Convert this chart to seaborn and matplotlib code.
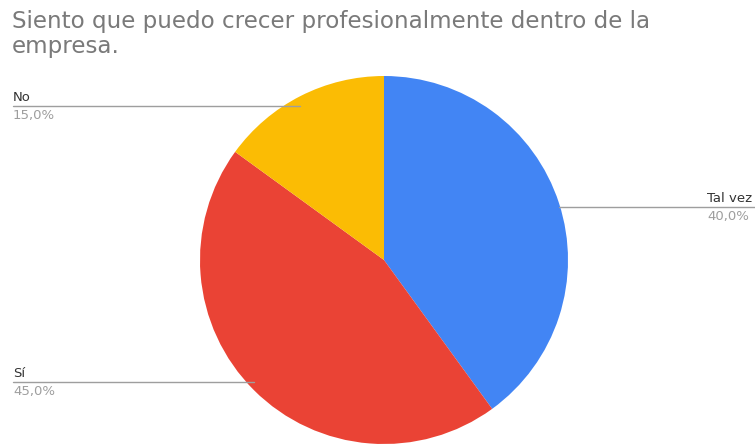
import numpy as np
import matplotlib
matplotlib.use("Agg")
import matplotlib.pyplot as plt
import seaborn as sns

# Survey answers, in drawing order (clockwise from 12 o'clock)
labels = ["Tal vez", "Sí", "No"]
shares = [40.0, 45.0, 15.0]
slice_colors = ["#4285F4", "#EA4335", "#FBBC04"]
title_lines = ["Siento que puedo crecer profesionalmente dentro de la", "empresa."]

sns.set_theme(style="white")
plt.rcParams["font.family"] = ["DejaVu Sans"]

W, H = 755, 445
fig = plt.figure(figsize=(W / 100, H / 100), dpi=100)
ax = fig.add_axes([0, 0, 1, 1])

palette = sns.color_palette(slice_colors)
cx, cy, R = 384, H - 260, 184
wedges, _ = ax.pie(shares, colors=palette, startangle=90, counterclock=False,
                   center=(cx, cy), radius=R, wedgeprops=dict(linewidth=0))

ax.set_xlim(0, W)
ax.set_ylim(0, H)
ax.set_aspect("equal")
ax.axis("off")

# Leader lines and labels
for w, name, val in zip(wedges, labels, shares):
    mid = np.deg2rad((w.theta1 + w.theta2) / 2)
    px = cx + R * np.cos(mid)
    py = cy + 0.94 * R * np.sin(mid)
    if px > cx:
        ax.plot([px, W], [py, py], color="#9e9e9e", lw=1)
        tx = 707
    else:
        ax.plot([13, px], [py, py], color="#9e9e9e", lw=1)
        tx = 13
    ax.text(tx, py + 5, name, fontsize=9.5, color="#333333",
            ha="left", va="baseline")
    ax.text(tx, py - 3, f"{val:.1f}%".replace(".", ","), fontsize=9.5,
            color="#9e9e9e", ha="left", va="top")

# Two-line title
for i, line in enumerate(title_lines):
    fig.text(12 / W, 1 - (28 + 25 * i) / H, line, fontsize=16.6,
             color="#7a7a7a", ha="left", va="baseline")

fig.savefig("out.png", dpi=100)
